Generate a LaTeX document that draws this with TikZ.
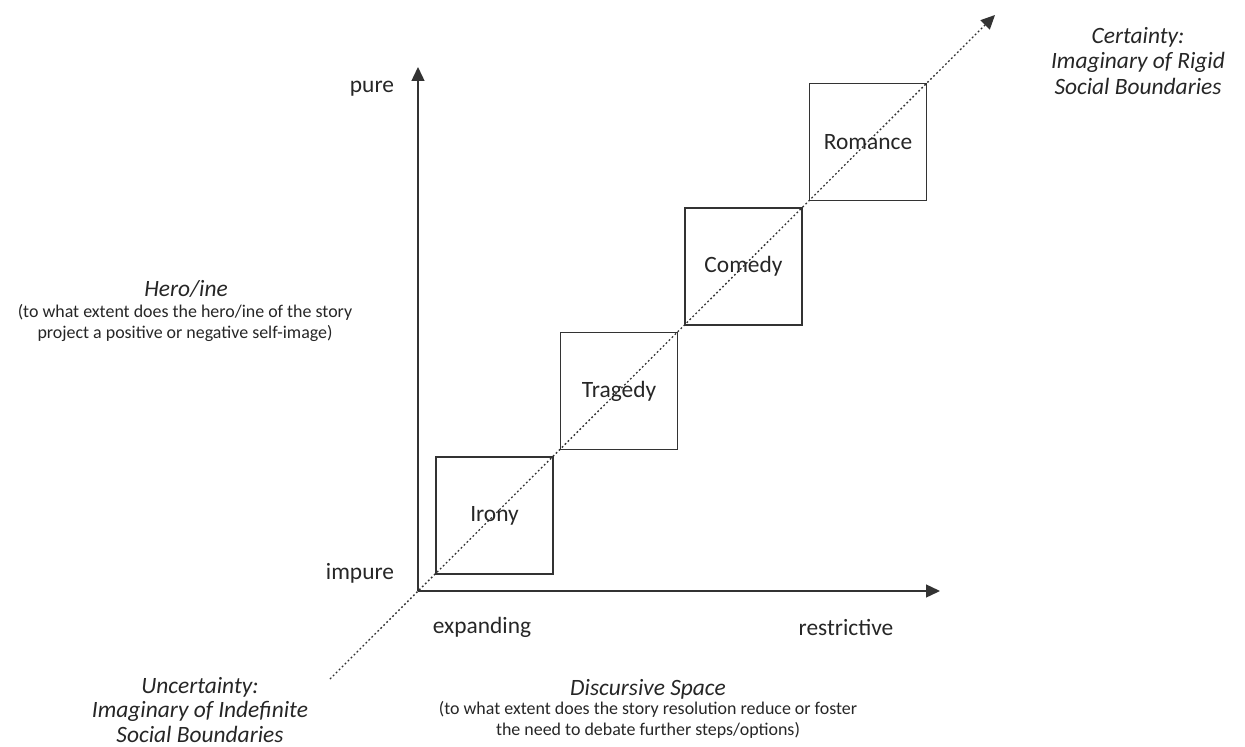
\documentclass[tikz,border=0pt]{standalone}
\usepackage{fontspec}
\setmainfont{Carlito}
\usepackage{tikz}
\usetikzlibrary{arrows.meta,positioning}
\definecolor{inkline}{HTML}{333333}
\definecolor{inktext}{HTML}{262626}

\begin{document}
\begin{tikzpicture}[
        x=1bp, y=-1bp,
        every node/.style={text=inktext},
        axis/.style={draw=inkline, line width=1.4bp,
                -{Triangle[length=14bp,width=13bp]}},
        diag/.style={draw=inkline, line width=1.3bp,
                dash pattern=on 1.8bp off 2.4bp,
                -{Triangle[length=14bp,width=13bp]}},
        genre/.style={draw=inkline, line width=1.1bp, minimum size=117bp,
                inner sep=0pt, font=\fontsize{23.5}{26}\selectfont},
        lab/.style={font=\fontsize{23.5}{26}\selectfont},
        ilab/.style={font=\fontsize{23.5}{26}\selectfont\itshape, align=center},
        sublab/.style={font=\fontsize{18}{21}\selectfont, align=center}
    ]
    \useasboundingbox (0,0) rectangle (1245,747);

    % =============== assen ===============
    \coordinate (o) at (418,591);
    \coordinate (ytip) at (418,67);
    \coordinate (xtip) at (940,591);
    \draw[axis] (o) -- (ytip);
    \draw[axis] (o) -- (xtip);

    % =============== diagonaal ===============
    \coordinate (dlow) at (330,679);
    \coordinate (dhigh) at (995,15);
    \draw[diag] (dlow) -- (dhigh);

    % =============== genres ===============
    \foreach \name [count=\i from 0] in {Irony,Tragedy,Comedy,Romance}
        \node[genre] (\name) at (494.5+124.5*\i,515.5-124.5*\i) {\name};

    % =============== aslabels ===============
    \node[lab] (pure) at (372,89) {pure};
    \node[lab] (impure) at (360,573) {impure};
    \node[lab] (expanding) at (482,627) {expanding};
    \node[lab] (restrictive) at (846,627) {restrictive};

    \node[ilab] (hero) at (186,289) {Hero/ine};
    \node[sublab] (herosub) at (185,323)
    {(to what extent does the hero/ine of the story\\project a positive or negative self-image)};

    \node[ilab] (disc) at (648,689) {Discursive Space};
    \node[sublab] (discsub) at (648,720)
    {(to what extent does the story resolution reduce or foster\\the need to debate further steps/options)};

    % =============== uiteinden diagonaal ===============
    \node[ilab, font=\fontsize{23.5}{25}\selectfont\itshape] (uncert) at (200,710)
    {Uncertainty:\\Imaginary of Indefinite\\Social Boundaries};
    \node[ilab] (cert) at (1138,61)
    {Certainty:\\Imaginary of Rigid\\Social Boundaries};

\end{tikzpicture}
\end{document}
